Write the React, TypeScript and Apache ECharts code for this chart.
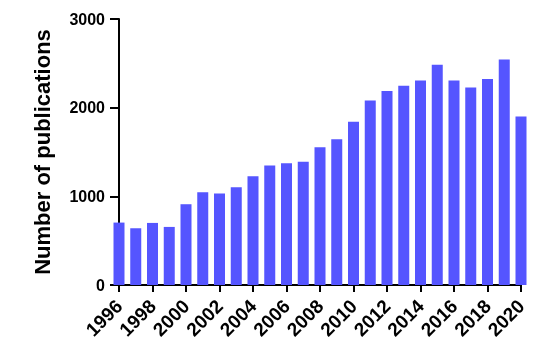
import React, { useEffect, useRef } from "react";
import * as echarts from "echarts";

const years = [
  1996, 1997, 1998, 1999, 2000, 2001, 2002, 2003, 2004, 2005, 2006, 2007,
  2008, 2009, 2010, 2011, 2012, 2013, 2014, 2015, 2016, 2017, 2018, 2019, 2020,
];
const publications = [
  704, 640, 700, 655, 911, 1046, 1031, 1103, 1227, 1347, 1374, 1389, 1554,
  1645, 1840, 2081, 2187, 2247, 2307, 2484, 2307, 2228, 2322, 2544, 1901,
];
const xTicks = { min: 1996, max: 2020, interval: 2 };
const yTicks = { min: 0, max: 3000, interval: 1000 };
const yName = "Number of publications";

export default function App() {
  const ref = useRef<HTMLDivElement>(null);
  useEffect(() => {
    if (!ref.current) return;
    const chart = echarts.init(ref.current, null, { renderer: "svg" });
    const font = "'Liberation Sans', Arial, sans-serif";
    chart.setOption({
      animation: false,
      grid: { left: 119, right: 29, top: 19, bottom: 69, containLabel: false },
      xAxis: {
        type: "value",
        min: xTicks.min,
        max: xTicks.max,
        interval: xTicks.interval,
        axisLine: { show: true, onZero: false, lineStyle: { color: "#000", width: 2 } },
        axisTick: {
          show: true,
          length: 7,
          lineStyle: { color: "#000", width: 2 },
        },
        axisLabel: {
          rotate: 45,
          margin: 18,
          color: "#000",
          fontWeight: "bold",
          fontSize: 19,
          fontFamily: font,
          formatter: (v: number) => String(v),
        },
        splitLine: { show: false },
      },
      yAxis: {
        type: "value",
        min: yTicks.min,
        max: yTicks.max,
        interval: yTicks.interval,
        name: yName,
        nameLocation: "middle",
        nameGap: 66,
        nameTextStyle: {
          color: "#000",
          fontWeight: "bold",
          fontSize: 22,
          fontFamily: font,
        },
        axisLine: { show: true, lineStyle: { color: "#000", width: 2 } },
        axisTick: { show: true, length: 9, lineStyle: { color: "#000", width: 2 } },
        axisLabel: {
          margin: 14,
          color: "#000",
          fontWeight: "bold",
          fontSize: 16,
          fontFamily: font,
          formatter: (v: number) => String(v),
        },
        splitLine: { show: false },
      },
      series: [
        {
          type: "bar",
          data: years.map((y, i) => [y, publications[i]]),
          barWidth: 11,
          clip: false,
          z: 1,
          itemStyle: { color: "#5555FF" },
        },
      ],
    });
    return () => chart.dispose();
  }, []);
  return (
    <div
      ref={ref}
      style={{ position: "fixed", left: 0, top: 0, width: 550, height: 354 }}
    />
  );
}
